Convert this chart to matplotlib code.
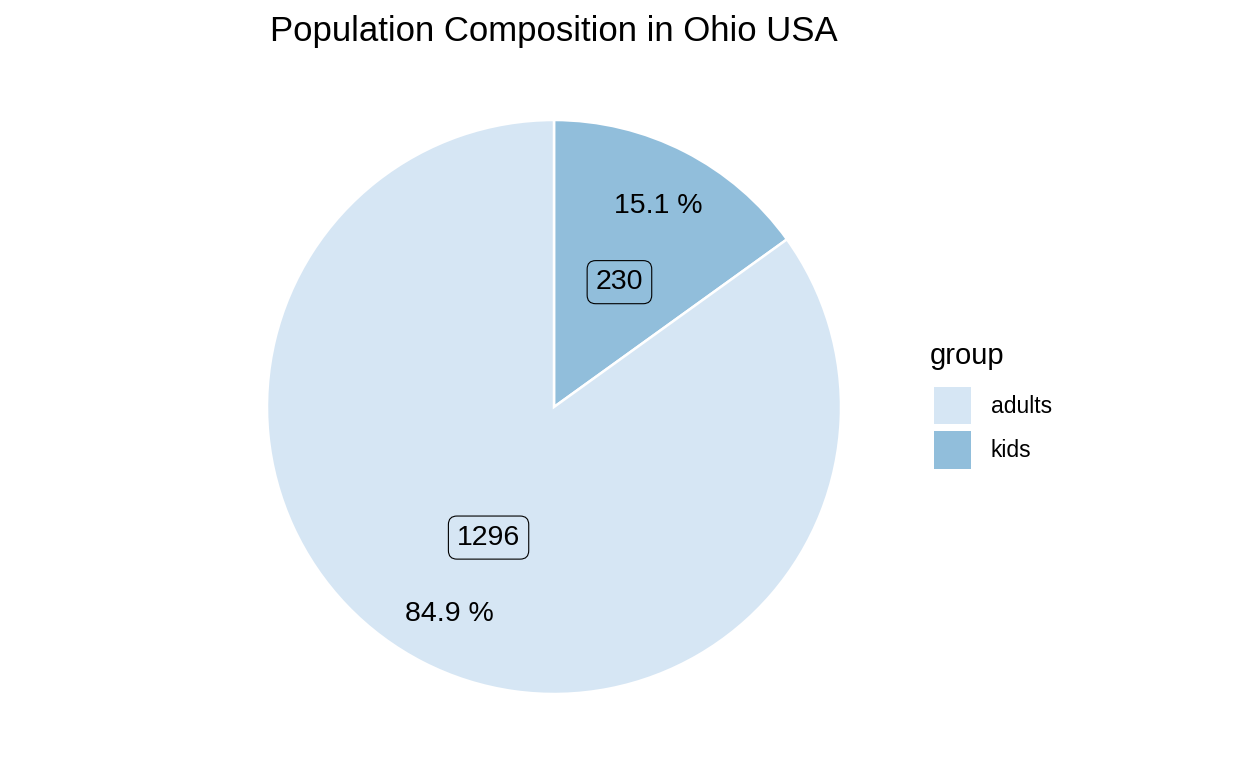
import numpy as np
import matplotlib.pyplot as plt
from matplotlib.patches import Patch

plt.rcParams["font.family"] = ["Liberation Sans", "DejaVu Sans"]

groups = ["kids", "adults"]
counts = [230, 1296]
pct_labels = ["15.1 %", "84.9 %"]
colors = {"adults": "#D6E6F4", "kids": "#91BEDB"}

W, H = 1248, 768
fig = plt.figure(figsize=(W / 100, H / 100), dpi=100)

# pie centre and radius in pixels
cx, cy, R = 554, 407, 287
ax = fig.add_axes([(cx - R) / W, (H - cy - R) / H, 2 * R / W, 2 * R / H])
ax.pie(counts, colors=[colors[g] for g in groups], startangle=90,
       counterclock=False, radius=1,
       wedgeprops=dict(edgecolor="white", linewidth=1.8))
ax.set_xlim(-1, 1)
ax.set_ylim(-1, 1)
ax.set_aspect("equal")
ax.axis("off")

# labels at slice midpoints
total = sum(counts)
start = 0.0
for n, pct in zip(counts, pct_labels):
    frac = n / total
    mid = np.deg2rad(90 - 360 * (start + frac / 2))
    start += frac
    ax.text(0.5 * np.cos(mid), 0.5 * np.sin(mid) - 0.01, str(n), ha="center",
            va="center", fontsize=20.5,
            bbox=dict(boxstyle="round,pad=0.3,rounding_size=0.3",
                      facecolor="none", edgecolor="black", linewidth=0.8))
    ax.text(0.8 * np.cos(mid), 0.8 * np.sin(mid) - 0.01, pct, ha="center",
            va="center", fontsize=20.5)

fig.text(cx / W, 1 - 32 / H, "Population Composition in Ohio USA",
         ha="center", va="center", fontsize=25)

# legend: title drawn separately so the gap to the keys matches
fig.text(930 / W, 1 - 356 / H, "group", ha="left", va="center", fontsize=21)
handles = [Patch(facecolor=colors[g], edgecolor="none") for g in ["adults", "kids"]]
leg = fig.legend(handles, ["adults", "kids"], frameon=False,
                 loc="upper left", bbox_to_anchor=(913 / W, 1 - 366 / H),
                 fontsize=16.5, handlelength=1.65,
                 handleheight=2.15, labelspacing=0.3, handletextpad=0.85)

fig.savefig("out.png", dpi=100)
